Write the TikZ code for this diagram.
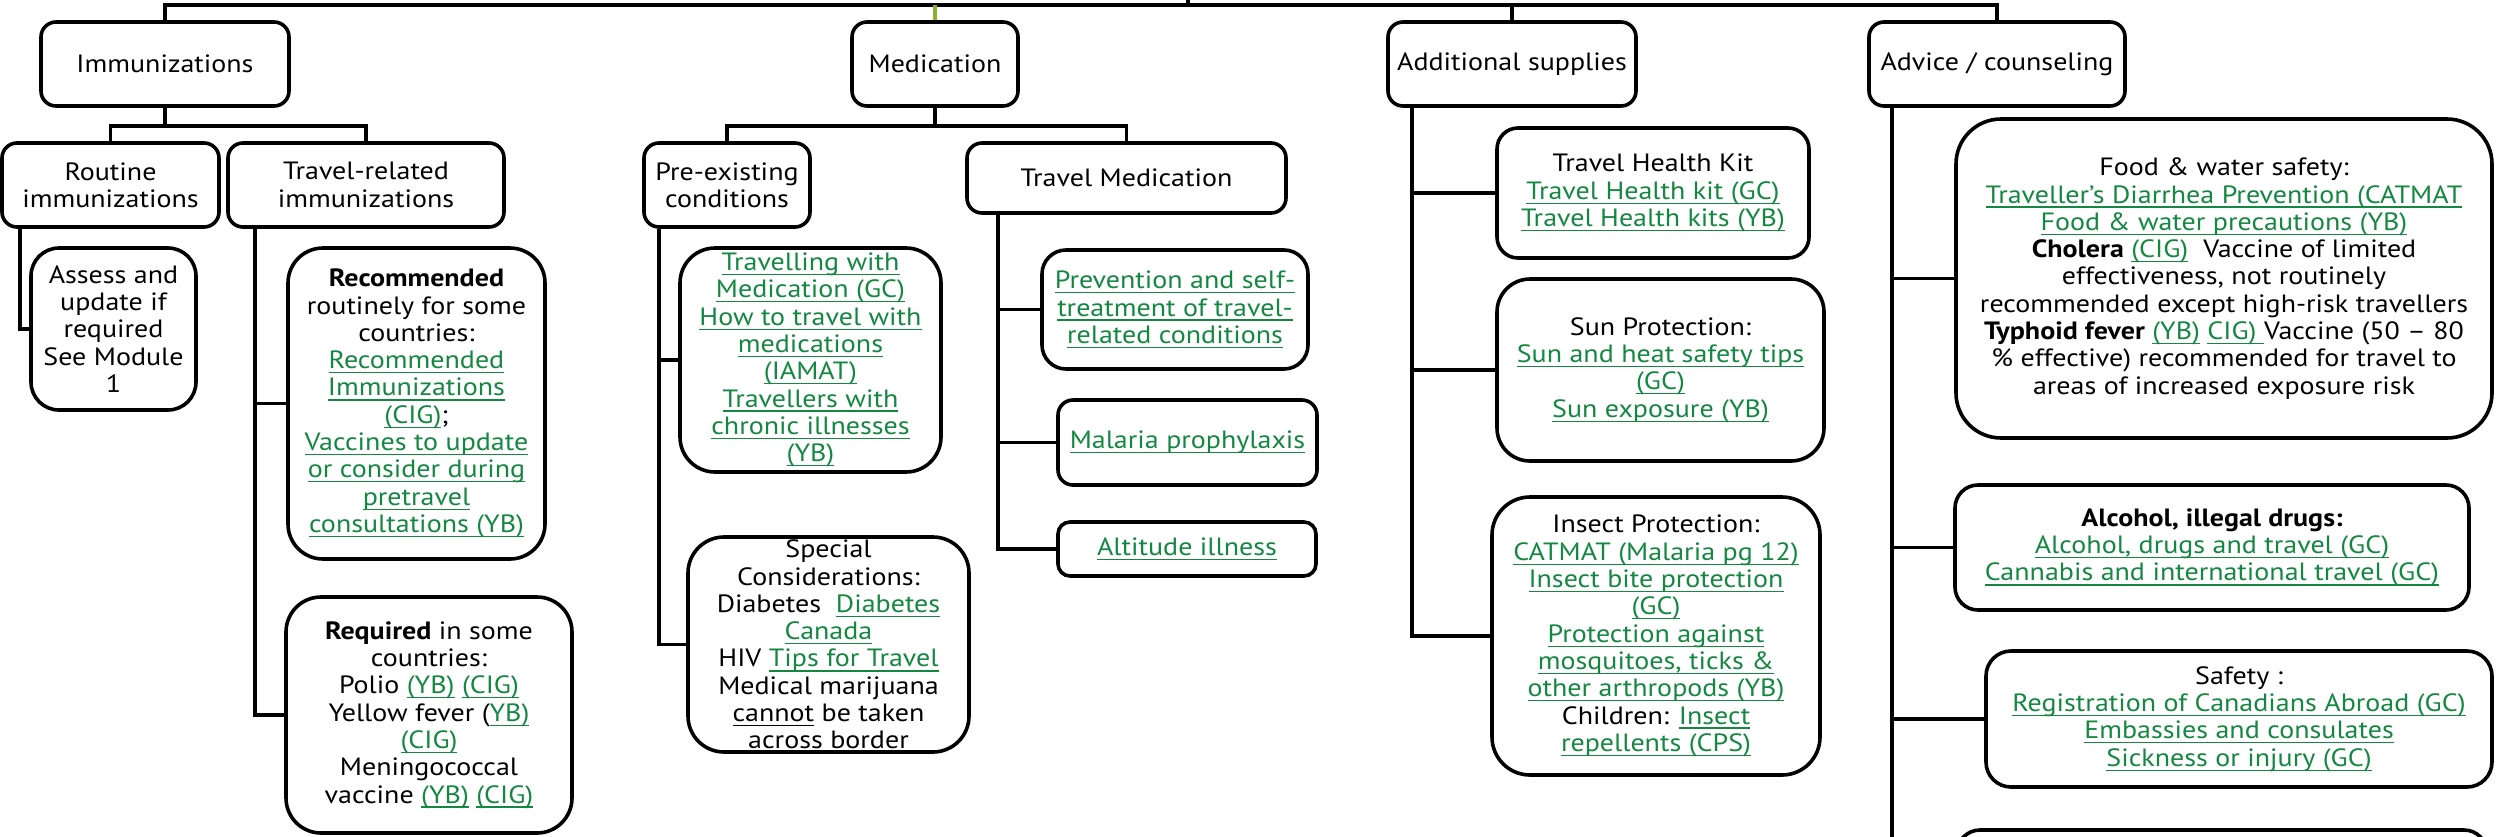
\documentclass[tikz,border=0pt]{standalone}
\usepackage{fontspec}
\setmainfont{PT Sans}[FakeStretch=1.12]
\definecolor{lnkgreen}{RGB}{20,135,65}
\definecolor{olivel}{RGB}{140,175,45}
\newsavebox\lnkbox
\newcommand\lnk[1]{{\color{lnkgreen}\sbox\lnkbox{#1}\rlap{\rule[-2.3pt]{\wd\lnkbox}{0.6pt}}\usebox\lnkbox}}
\newcommand\ulk[1]{{\sbox\lnkbox{#1}\rlap{\rule[-2.3pt]{\wd\lnkbox}{0.6pt}}\usebox\lnkbox}}
\tikzset{
  bx/.style={draw, line width=1.8pt, rounded corners=#1, inner sep=0pt, align=center,
    font=\fontsize{12.5}{13.65}\selectfont},
  bx/.default=7.5pt,
  conn/.style={line width=1.8pt},
}
\begin{document}
\begin{tikzpicture}[x=0.5pt,y=-0.5pt]
\useasboundingbox (0,0) rectangle (2496,836);
\clip (0,0) rectangle (2496,836);

% top level
\node[bx, minimum width=124pt, minimum height=42pt] (imm) at (165,64) {Immunizations};
\node[bx, minimum width=83pt, minimum height=42pt] (med) at (935,64) {Medication};
\node[bx, minimum width=124pt, minimum height=42pt] (add) at (1512,64) {Additional supplies};
\node[bx, minimum width=128pt, minimum height=42pt] (adv) at (1997,64) {Advice / counseling};

% immunizations branch
\node[bx, minimum width=108.5pt, minimum height=42pt] (routine) at (110.5,185) {Routine\\immunizations};
\node[bx, minimum width=138pt, minimum height=42pt] (travrel) at (366,185) {Travel-related\\immunizations};
\node[bx=14pt, minimum width=82.5pt, minimum height=81pt] (assess) at (113.5,329)
  {Assess and\\update if\\required\\See Module\\1};
\node[bx=17.5pt, minimum width=128.5pt, minimum height=155.5pt] (recom) at (416.5,403.5)
  {\textbf{Recommended}\\routinely for some\\countries:\\\lnk{Recommended}\\\lnk{Immunizations}\\\lnk{(CIG)};\\\lnk{Vaccines to update}\\\lnk{or consider during}\\\lnk{pretravel}\\\lnk{consultations (YB)}};
\node[bx=17.5pt, minimum width=143pt, minimum height=118pt] (required) at (429,715)
  {\textbf{Required} in some\\countries:\\Polio \lnk{(YB)} \lnk{(CIG)}\\Yellow fever (\lnk{YB)}\\\lnk{(CIG)}\\Meningococcal\\vaccine \lnk{(YB)} \lnk{(CIG)}};

% medication branch
\node[bx, minimum width=83pt, minimum height=42pt] (preex) at (727,185) {Pre-existing\\conditions};
\node[bx, minimum width=159.5pt, minimum height=35pt] (travmed) at (1126.5,178) {Travel Medication};
\node[bx=17.5pt, minimum width=130.5pt, minimum height=112pt] (travelling) at (810.5,360)
  {\lnk{Travelling with}\\\lnk{Medication (GC)}\\\lnk{How to travel with}\\\lnk{medications}\\\lnk{(IAMAT)}\\\lnk{Travellers with}\\\lnk{chronic illnesses}\\\lnk{(YB)}};
\node[bx=18pt, minimum width=140.5pt, minimum height=107.5pt] (special) at (828.5,644.5)
  {Special\\Considerations:\\Diabetes~~\lnk{Diabetes}\\\lnk{Canada}\\HIV \lnk{Tips for Travel}\\Medical marijuana\\\ulk{cannot} be taken\\across border};
\node[bx=12pt, minimum width=133pt, minimum height=59.5pt] (prevention) at (1175,309.5)
  {\lnk{Prevention and self-}\\\lnk{treatment of travel-}\\\lnk{related conditions}};
\node[bx, minimum width=129.5pt, minimum height=42.5pt] (malaria) at (1187.5,442.5) {\lnk{Malaria prophylaxis}};
\node[bx=6pt, minimum width=129pt, minimum height=27pt] (altitude) at (1187,549) {\lnk{Altitude illness}};

% additional supplies branch
\node[bx=10.5pt, minimum width=156pt, minimum height=65pt] (kit) at (1653,193)
  {Travel Health Kit\\\lnk{Travel Health kit (GC)}\\\lnk{Travel Health kits (YB)}};
\node[bx=16.5pt, minimum width=163.5pt, minimum height=91pt] (sun) at (1660.5,370)
  {Sun Protection:\\\lnk{Sun and heat safety tips}\\\lnk{(GC)}\\\lnk{Sun exposure (YB)}};
\node[bx=19pt, minimum width=164pt, minimum height=139pt] (insect) at (1656,636)
  {Insect Protection:\\\lnk{CATMAT (Malaria pg 12)}\\\lnk{Insect bite protection}\\\lnk{(GC)}\\\lnk{Protection against}\\\lnk{mosquitoes, ticks \&}\\\lnk{other arthropods (YB)}\\Children: \lnk{Insect}\\\lnk{repellents (CPS)}};

% advice branch
\node[bx=22.5pt, minimum width=268pt, minimum height=159.5pt] (food) at (2224,278.5)
  {Food \& water safety:\\\lnk{Traveller’s Diarrhea Prevention (CATMAT}\\\lnk{Food \& water precautions (YB)}\\\textbf{Cholera} \lnk{(CIG)}~~Vaccine of limited\\effectiveness, not routinely\\recommended except high-risk travellers\\\textbf{Typhoid fever} \lnk{(YB)} \lnk{CIG)~}Vaccine (50 – 80\\\% effective) recommended for travel to\\areas of increased exposure risk};
\node[bx=11.5pt, minimum width=257pt, minimum height=62.5pt] (alcohol) at (2212,547.5)
  {\textbf{Alcohol, illegal drugs:}\\\lnk{Alcohol, drugs and travel (GC)}\\\lnk{Cannabis and international travel (GC)}};
\node[bx=12.5pt, minimum width=253pt, minimum height=68pt] (safety) at (2239,719)
  {Safety :\\\lnk{Registration of Canadians Abroad (GC)}\\\lnk{Embassies and consulates}\\\lnk{Sickness or injury (GC)}};
\node[bx=11.5pt, minimum width=265pt, minimum height=50pt] (nextbox) at (2222,880) {};

% top connectors
\coordinate (root) at (1188,-10);
\coordinate (topj) at (1188,5);
\draw[conn] (imm.north) |- (topj) -| (adv.north);
\draw[conn] (root) -- (topj);
\draw[conn] (add.north) -- (add.north |- topj);
\draw[conn, olivel] (med.north) -- (med.north |- topj);

% immunizations
\coordinate (immj) at (165,126);
\draw[conn] (imm.south) -- (immj);
\draw[conn] (routine.north) |- (immj) -| (travrel.north);
\draw[conn] ([xshift=10pt]routine.south west) |- (assess.west);
\coordinate (trk) at ([xshift=14.5pt]travrel.south west);
\draw[conn] (trk) |- (required.west);
\draw[conn] (recom.west) -- (recom.west -| trk);

% medication
\coordinate (medj) at (935,126);
\draw[conn] (med.south) -- (medj);
\draw[conn] (preex.north) |- (medj) -| (travmed.north);
\coordinate (prk) at ([xshift=8.5pt]preex.south west);
\draw[conn] (prk) |- (special.west);
\draw[conn] (travelling.west) -- (travelling.west -| prk);
\coordinate (tmk) at ([xshift=16.5pt]travmed.south west);
\draw[conn] (tmk) |- (altitude.west);
\draw[conn] (prevention.west) -- (prevention.west -| tmk);
\draw[conn] (malaria.west) -- (malaria.west -| tmk);

% additional supplies
\coordinate (adk) at ([xshift=13pt]add.south west);
\draw[conn] (adk) |- (insect.west);
\draw[conn] (kit.west) -- (kit.west -| adk);
\draw[conn] (sun.west) -- (sun.west -| adk);

% advice
\coordinate (avk) at ([xshift=12.5pt]adv.south west);
\draw[conn] (avk) |- (nextbox.west);
\draw[conn] (food.west) -- (food.west -| avk);
\draw[conn] (alcohol.west) -- (alcohol.west -| avk);
\draw[conn] (safety.west) -- (safety.west -| avk);
\end{tikzpicture}
\end{document}
